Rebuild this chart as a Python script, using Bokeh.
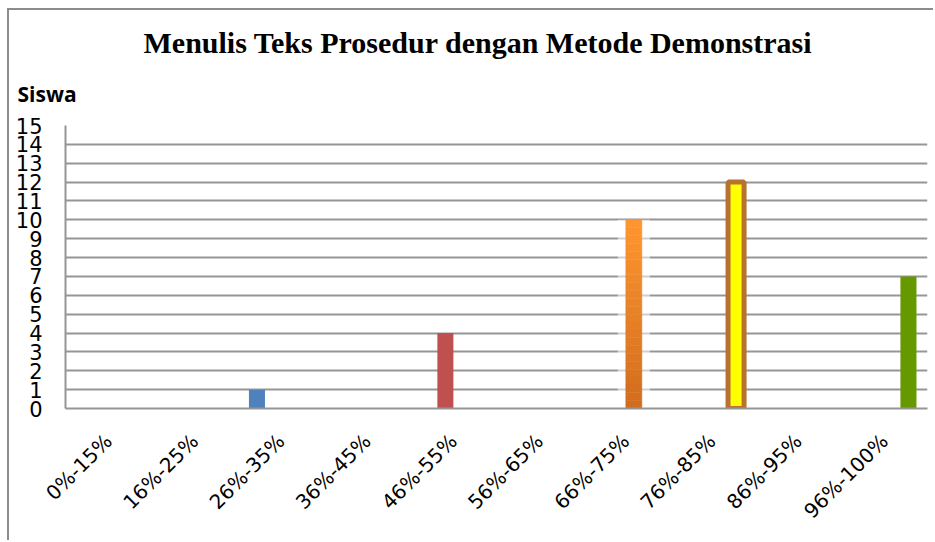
import math
from bokeh.plotting import figure
from bokeh.models import FactorRange, FixedTicker, Title
from bokeh.transform import dodge
from bokeh.embed import file_html
from bokeh.resources import INLINE

# ---- data ----
categories = ["0%-15%", "16%-25%", "26%-35%", "36%-45%", "46%-55%",
              "56%-65%", "66%-75%", "76%-85%", "86%-95%", "96%-100%"]
bar_categories = ["26%-35%", "46%-55%", "66%-75%", "76%-85%", "96%-100%"]
bar_values = [1, 4, 10, 12, 7]
bar_series = [0, 1, 2, 3, 3]
bar_colors = ["#4F81BD", "#C0504D", "#F79646", "#FFFF00", "#669900"]
y_ticks = list(range(0, 16))
title_text = "Menulis Teks Prosedur dengan Metode Demonstrasi"
y_title = "Siswa"

BAR_W = 0.186

p = figure(width=926, height=532, title=None,
           x_range=FactorRange(*categories), y_range=(0, 15),
           output_backend="svg", toolbar_location=None,
           min_border_left=56, min_border_right=8,
           min_border_top=115, min_border_bottom=134,
           styles={"margin-left": "7px", "margin-top": "8px",
                   "border-left": "2px solid #8c8c8c",
                   "border-top": "2px solid #8c8c8c"})
p.outline_line_color = None
p.background_fill_color = "white"
p.border_fill_color = "white"

p.xgrid.grid_line_color = None
p.ygrid.grid_line_color = "#969696"
p.ygrid.grid_line_width = 2
p.yaxis.ticker = FixedTicker(ticks=y_ticks)

for ax in (p.xaxis, p.yaxis):
    ax.axis_line_color = "#969696"
    ax.axis_line_width = 2
    ax.major_tick_line_color = None
    ax.minor_tick_line_color = None
    ax.major_tick_out = 0
    ax.major_tick_in = 0
    ax.minor_tick_out = 0
    ax.minor_tick_in = 0
    ax.major_label_text_font = "DejaVu Sans"
    ax.major_label_text_color = "black"

p.yaxis.major_label_text_font_size = "21px"
p.yaxis.major_label_standoff = 23
p.xaxis.major_label_text_font_size = "20px"
p.xaxis.major_label_orientation = math.pi / 4
p.xaxis.major_label_standoff = 29

# ---- bars ----
def interp(c1, c2, t):
    a = [int(c1[i:i + 2], 16) for i in (1, 3, 5)]
    b = [int(c2[i:i + 2], 16) for i in (1, 3, 5)]
    return "#%02x%02x%02x" % tuple(round(a[k] + (b[k] - a[k]) * t) for k in range(3))

for cat, val, s, col in zip(bar_categories, bar_values, bar_series, bar_colors):
    off = (s - 1.5) * BAR_W
    x = dodge("x", off, range=p.x_range)
    if col == "#F79646":
        # soft glow + vertical gradient
        p.vbar(x=x, top="top", bottom=0, width=BAR_W * 2.0,
               source={"x": [cat], "top": [val]},
               fill_color="white", fill_alpha=0.55, line_color=None)
        n = 24
        xs = [cat] * n
        bots = [val * k / n for k in range(n)]
        tops = [val * (k + 1) / n for k in range(n)]
        cols = [interp("#D06C1E", "#FF962F", (k + 0.5) / n) for k in range(n)]
        p.vbar(x=x, top="top", bottom="bottom", width=BAR_W,
               source={"x": xs, "top": tops, "bottom": bots, "c": cols},
               fill_color="c", line_color="c", line_width=0.5)
    elif col == "#FFFF00":
        p.vbar(x=x, top="top", bottom=0, width=BAR_W,
               source={"x": [cat], "top": [val]},
               fill_color=col, line_color="#B9712F", line_width=5)
    else:
        p.vbar(x=x, top="top", bottom=0, width=BAR_W,
               source={"x": [cat], "top": [val]},
               fill_color=col, line_color=None)

# ---- texts (titles stacked above the frame) ----
p.add_layout(Title(text=y_title, align="left", offset=-48, standoff=35,
                   text_font="Open Sans", text_font_style="bold",
                   text_font_size="21px", text_color="black"), "above")
p.add_layout(Title(text=title_text, align="left", offset=78, standoff=3,
                   text_font="Liberation Serif", text_font_style="bold",
                   text_font_size="30px", text_color="black"), "above")

open("out.html", "w").write(file_html(p, INLINE))
